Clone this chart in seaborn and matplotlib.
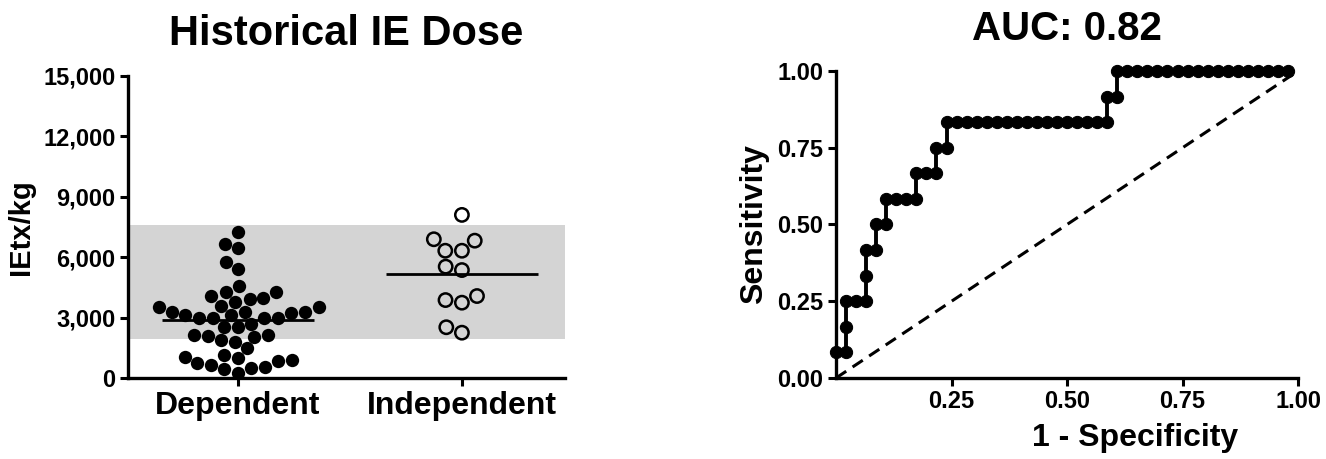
import numpy as np
import pandas as pd
import matplotlib
matplotlib.use("Agg")
import matplotlib.pyplot as plt
from matplotlib.ticker import FuncFormatter
import seaborn as sns

sns.set_style("ticks")
plt.rcParams['font.family'] = ['Liberation Sans', 'DejaVu Sans']
plt.rcParams['font.weight'] = 'bold'
plt.rcParams['axes.labelweight'] = 'bold'
plt.rcParams['axes.titleweight'] = 'bold'
for k in ('text.color', 'axes.labelcolor', 'xtick.color', 'ytick.color', 'axes.edgecolor'):
    plt.rcParams[k] = 'black'

# --- left panel: historical IE dose (IEtx/kg) ---
dependent = [7270, 6650, 6440, 5780, 5400,
             4570, 4290, 4290, 4070, 3990, 3910, 3790, 3600,
             3510, 3510, 3290, 3290, 3290, 3210, 3130, 3130, 3000,
             2965, 2965, 2965, 2700, 2550, 2550,
             2140, 2140, 2090, 2050, 1890, 1800, 1475,
             1140, 1060, 980, 890, 840, 730,
             650, 560, 480, 430, 265]
independent = [8100, 6890, 6820, 6320, 6320, 5530, 5360,
               4070, 3870, 3740, 2520, 2250]
groups = ['Dependent', 'Independent']
band_low, band_high = 1950, 7600   # shaded reference range

# --- right panel: ROC curve, counts of 46 negatives / 12 positives ---
n_neg, n_pos = 46, 12
fp_counts = [0, 1, 1, 1, 2, 3, 3, 3, 4, 4, 5, 5, 6, 7, 8, 8, 9, 10, 10, 11,
             11, 12, 13, 14, 15, 16, 17, 18, 19, 20, 21, 22, 23, 24, 25, 26, 27,
             27, 28, 28, 29, 30, 31, 32, 33, 34, 35, 36, 37, 38, 39, 40, 41, 42,
             43, 44, 45]
tp_counts = [1, 1, 2, 3, 3, 3, 4, 5, 5, 6, 6, 7, 7, 7, 7, 8, 8, 8, 9, 9,
             10, 10, 10, 10, 10, 10, 10, 10, 10, 10, 10, 10, 10, 10, 10, 10, 10,
             11, 11, 12, 12, 12, 12, 12, 12, 12, 12, 12, 12, 12, 12, 12, 12, 12,
             12, 12, 12]
auc_text = 'AUC: 0.82'

df = pd.DataFrame({
    'group': ['Dependent'] * len(dependent) + ['Independent'] * len(independent),
    'dose': dependent + independent,
})
roc = pd.DataFrame({'fpr': np.array(fp_counts) / n_neg,
                    'tpr': np.array(tp_counts) / n_pos})

fig = plt.figure(figsize=(13.26, 4.59), dpi=100)
ax1 = fig.add_axes([0.0965, 0.1765, 0.3296, 0.658])
ax2 = fig.add_axes([0.6305, 0.1765, 0.3484, 0.6688])

# left: scatter of doses
ax1.axhspan(band_low, band_high, color='#d4d4d4', lw=0, zorder=0)
sns.swarmplot(data=df[df.group == 'Dependent'], x='group', y='dose', order=groups,
              color='black', size=9.6, ax=ax1, zorder=3)
sns.swarmplot(data=df[df.group == 'Independent'], x='group', y='dose', order=groups,
              color='black', size=9.6, linewidth=1.8, edgecolor='black', ax=ax1, zorder=3)
ax1.collections[-1].set_facecolor('none')

for i, g in enumerate(groups):
    m = df.loc[df.group == g, 'dose'].mean()
    ax1.hlines(m, i - 0.34, i + 0.34, color='black', lw=2, zorder=2)

ax1.set_xlim(-0.49, 1.46)
ax1.set_ylim(0, 15000)
ax1.set_yticks([0, 3000, 6000, 9000, 12000, 15000])
ax1.yaxis.set_major_formatter(FuncFormatter(lambda v, p: f'{v:,.0f}'))
ax1.set_xlabel('')
ax1.set_ylabel('IEtx/kg', fontsize=21, labelpad=6)
ax1.set_title('Historical IE Dose', fontsize=30, pad=22)
ax1.tick_params(axis='y', labelsize=17)
ax1.tick_params(axis='x', labelsize=23, pad=4)

# right: ROC curve
ax2.plot([0, 1], [0, 1], ls=(0, (4, 2.5)), color='black', lw=2.2)
sns.lineplot(data=roc, x='fpr', y='tpr', estimator=None, sort=False,
             color='black', lw=2.8, marker='o', markersize=8.8,
             markeredgecolor='black', ax=ax2, clip_on=False, zorder=3)
ax2.set_xlim(0, 1)
ax2.set_ylim(0, 1)
ax2.set_xticks([0.25, 0.5, 0.75, 1.0])
ax2.set_yticks([0, 0.25, 0.5, 0.75, 1.0])
ax2.xaxis.set_major_formatter(FuncFormatter(lambda v, p: f'{v:.2f}'))
ax2.yaxis.set_major_formatter(FuncFormatter(lambda v, p: f'{v:.2f}'))
ax2.set_xlabel('1 - Specificity', fontsize=23, labelpad=7, x=0.647)
ax2.set_ylabel('Sensitivity', fontsize=23, labelpad=6)
ax2.set_title(auc_text, fontsize=29, pad=22)
ax2.tick_params(labelsize=17)

for ax in (ax1, ax2):
    sns.despine(ax=ax)
    for s in ('left', 'bottom'):
        ax.spines[s].set_linewidth(2.4)
        ax.spines[s].set_color('black')
    ax.tick_params(direction='out', length=5.5, width=2.2, color='black')

fig.savefig('out.png', dpi=100)
